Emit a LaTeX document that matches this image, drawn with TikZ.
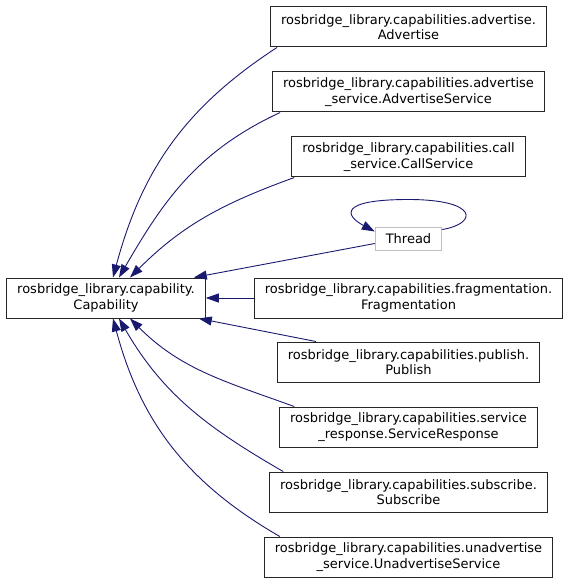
\documentclass[tikz,border=0pt]{standalone}
\usepackage{fontspec}
\setmainfont{DejaVu Sans}
\usetikzlibrary{arrows.meta}
\definecolor{edgeblue}{HTML}{191970}
\definecolor{extgray}{HTML}{BFBFBF}
\tikzset{
  classbox/.style={
    draw=black!85, line width=1pt, fill=white, align=center,
    font=\fontsize{13}{15.5}\selectfont, inner xsep=10.5pt, inner ysep=0pt,
    minimum height=40pt
  },
  extbox/.style={
    classbox, draw=extgray, minimum height=23pt
  },
  inherit/.style={
    -{Triangle[length=13pt,width=9pt]}, edgeblue, line width=0.9pt
  }
}

\begin{document}
\begin{tikzpicture}[x=1pt, y=1pt]
  \useasboundingbox (0,0) rectangle (569,-585);

  % Base class
  \node[classbox] (cap) at (106,-298) {rosbridge\_library.capability.\\Capability};

  % Derived classes
  \node[classbox] (adv)     at (408.5,-27)  {rosbridge\_library.capabilities.advertise.\\Advertise};
  \node[classbox] (advsvc)  at (408.5,-92)  {rosbridge\_library.capabilities.advertise\\\_service.AdvertiseService};
  \node[classbox] (call)    at (408.5,-157) {rosbridge\_library.capabilities.call\\\_service.CallService};
  \node[extbox]   (thread)  at (408.5,-238.5) {Thread};
  \node[classbox] (frag)    at (408.5,-298) {rosbridge\_library.capabilities.fragmentation.\\Fragmentation};
  \node[classbox] (pub)     at (408.5,-362) {rosbridge\_library.capabilities.publish.\\Publish};
  \node[classbox] (svcresp) at (408.5,-427) {rosbridge\_library.capabilities.service\\\_response.ServiceResponse};
  \node[classbox] (sub)     at (408.5,-492) {rosbridge\_library.capabilities.subscribe.\\Subscribe};
  \node[classbox] (unadv)   at (408.5,-557) {rosbridge\_library.capabilities.unadvertise\\\_service.UnadvertiseService};

  % Inheritance arrows
  \draw[inherit] ([xshift=7pt]adv.south west)     to[out=213, in=75]  ([xshift=7pt]cap.north);
  \draw[inherit] ([xshift=8pt]advsvc.south west)  to[out=205, in=60]  ([xshift=13pt]cap.north);
  \draw[inherit] ([xshift=3pt]call.south west)    to[out=200, in=45]  ([xshift=24pt]cap.north);
  \draw[inherit] ([yshift=-5pt]thread.west) -- ([xshift=-12pt]cap.north east);
  \draw[inherit] (frag) -- (cap);
  \draw[inherit] ([xshift=39pt]pub.north west) -- ([xshift=-7pt]cap.south east);
  \draw[inherit] ([xshift=15pt]svcresp.north west) to[out=160, in=-45] ([xshift=24pt]cap.south);
  \draw[inherit] ([xshift=14pt]sub.north west)     to[out=150, in=-60] ([xshift=13pt]cap.south);
  \draw[inherit] ([xshift=16pt]unadv.north west)   to[out=150, in=-75] ([xshift=7pt]cap.south);

  % Thread self loop
  \draw[inherit] ([yshift=-3pt]thread.north east)
    .. controls +(36,6) and +(70,0) .. ([yshift=27pt]thread.north)
    .. controls +(-70,0) and +(-30,16) .. ([yshift=-5pt]thread.north west);
\end{tikzpicture}
\end{document}
